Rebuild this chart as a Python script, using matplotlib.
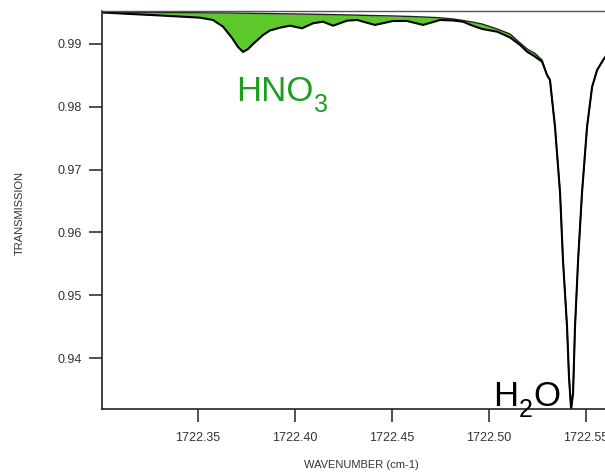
#
# HNO3 / H2O transmission spectrum
#
import matplotlib
matplotlib.use("Agg")
import matplotlib.pyplot as plt

# wavenumber grid (cm-1), shared by both spectra
wavenumber = [
    1722.3005, 1722.3149, 1722.3304, 1722.3510, 1722.3577, 1722.3629,
    1722.3675, 1722.3706, 1722.3732, 1722.3758, 1722.3784, 1722.3835,
    1722.3871, 1722.3923, 1722.3974, 1722.4036, 1722.4093, 1722.4144,
    1722.4196, 1722.4268, 1722.4320, 1722.4366, 1722.4412, 1722.4505,
    1722.4577, 1722.4660, 1722.4747, 1722.4814, 1722.4866, 1722.4912,
    1722.4964, 1722.5041, 1722.5108, 1722.5160, 1722.5196, 1722.5237,
    1722.5273, 1722.5299, 1722.5314, 1722.5340, 1722.5366, 1722.5381,
    1722.5402, 1722.5412, 1722.5423, 1722.5433, 1722.5443, 1722.5459,
    1722.5479, 1722.5505, 1722.5531, 1722.5557, 1722.5588, 1722.5624,
]

# transmission without HNO3
trans_clear = [
    0.99510, 0.99505, 0.99502, 0.99497, 0.99494, 0.99494,
    0.99492, 0.99490, 0.99490, 0.99489, 0.99487, 0.99486,
    0.99484, 0.99481, 0.99479, 0.99476, 0.99473, 0.99470,
    0.99467, 0.99462, 0.99459, 0.99455, 0.99452, 0.99446,
    0.99439, 0.99430, 0.99417, 0.99398, 0.99374, 0.99350,
    0.99318, 0.99239, 0.99159, 0.99016, 0.98920, 0.98849,
    0.98745, 0.98506, 0.98427, 0.97678, 0.96627, 0.95561,
    0.94494, 0.93697, 0.93188, 0.93443, 0.94494, 0.95561,
    0.96627, 0.97678, 0.98315, 0.98586, 0.98745, 0.98904,
]

# transmission with HNO3
trans_hno3 = [
    0.99502, 0.99478, 0.99454, 0.99419, 0.99382, 0.99275,
    0.99096, 0.98952, 0.98873, 0.98920, 0.99000, 0.99143,
    0.99215, 0.99260, 0.99291, 0.99250, 0.99330, 0.99355,
    0.99291, 0.99371, 0.99382, 0.99342, 0.99303, 0.99366,
    0.99366, 0.99303, 0.99382, 0.99374, 0.99355, 0.99295,
    0.99239, 0.99196, 0.99104, 0.98984, 0.98877, 0.98798,
    0.98718, 0.98506, 0.98427, 0.97678, 0.96627, 0.95561,
    0.94494, 0.93697, 0.93188, 0.93443, 0.94494, 0.95561,
    0.96627, 0.97678, 0.98315, 0.98586, 0.98745, 0.98904,
]

xticks = [1722.35, 1722.40, 1722.45, 1722.50, 1722.55]
yticks = [0.94, 0.95, 0.96, 0.97, 0.98, 0.99]

plt.rcParams["font.family"] = ["Liberation Sans", "DejaVu Sans"]

W, H = 605, 472


# 化学式: 本体 + 下付き文字 (下付きは本体の右に置く)
def formula(fig, x, y, parts, color):
    # parts: [(text, is_sub), ...], x/y = baseline in pixels from top-left
    r = fig.canvas.get_renderer()
    for txt, sub in parts:
        size = 18 if sub else 25
        yy = y + (11 if sub else 0)
        t = fig.text(x / W, 1 - yy / H, txt, fontsize=size, color=color,
                     ha="left", va="baseline")
        x += t.get_window_extent(renderer=r).width + 0.5


def main():
    fig = plt.figure(figsize=(W / 100, H / 100), dpi=100)
    # axes run past the right edge of the figure (cropped like the original)
    ax = fig.add_axes([102 / W, (H - 409) / H, 538 / W, 398 / H])

    ax.fill_between(wavenumber, trans_hno3, trans_clear, color="#5cc82c", lw=0)
    ax.plot(wavenumber, trans_clear, color="#222222", lw=1.0)
    ax.plot(wavenumber, trans_hno3, color="black", lw=1.5)

    ax.set_xlim(1722.3005, 1722.5778)
    ax.set_ylim(0.93188, 0.99525)
    ax.set_xticks(xticks)
    ax.set_xticklabels(["{0:.2f}".format(v) for v in xticks])
    ax.set_yticks(yticks)
    ax.set_yticklabels(["{0:.2f}".format(v) for v in yticks])
    ax.tick_params(direction="out", length=9.5, width=1.2, labelsize=9,
                   colors="#333333", pad=5)
    ax.tick_params(axis="x", pad=7)

    for s in ["left", "bottom"]:
        ax.spines[s].set_linewidth(1.2)
        ax.spines[s].set_color("#222222")
    ax.spines["top"].set_linewidth(1.0)
    ax.spines["top"].set_color("#555555")
    ax.spines["right"].set_visible(False)

    fig.text(20 / W, 1 - 213 / H, "TRANSMISSION", rotation=90,
             fontsize=8, ha="center", va="center", color="#333333")
    fig.text(361 / W, 1 - 465 / H, "WAVENUMBER (cm-1)",
             fontsize=8, ha="center", va="center", color="#333333")

    fig.canvas.draw()
    formula(fig, 236, 101, [("HNO", False), ("3", True)], "#1e9e1e")
    formula(fig, 493, 406, [("H", False), ("2", True), ("O", False)], "black")

    fig.savefig("out.png", dpi=100)


if __name__ == "__main__":
    main()
